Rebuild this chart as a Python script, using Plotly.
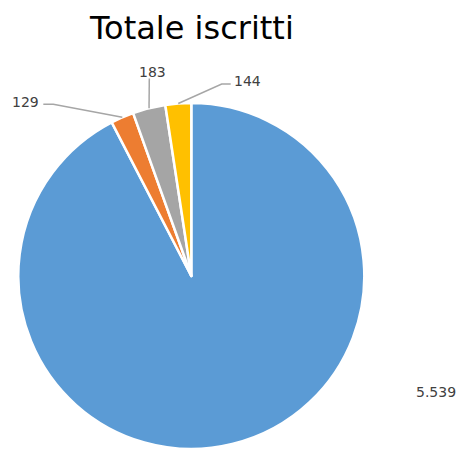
import math
import plotly.graph_objects as go

# ---- data ----
categories = ["A", "B", "C", "D"]
values = [5539, 129, 183, 144]
value_labels = ["5.539", "129", "183", "144"]
colors = ["#5B9BD5", "#ED7D31", "#A5A5A5", "#FFC000"]
title_text = "Totale iscritti"

W, H = 459, 449
# pie geometry in pixels (layout)
cx, cy, R = 191.3, 276.0, 173.0

def px2paper(x, y):
    return x / W, 1 - y / H

dx0, dy0 = px2paper(cx - R, cy + R)
dx1, dy1 = px2paper(cx + R, cy - R)
dom_x = [max(0.0, dx0), min(1.0, dx1)]
dom_y = [max(0.0, dy0), min(1.0, dy1)]

fig = go.Figure()
fig.add_trace(go.Pie(
    labels=categories, values=values, sort=False, direction="clockwise",
    rotation=0, textinfo="none", hoverinfo="label+value",
    marker=dict(colors=colors, line=dict(color="white", width=2.5)),
    domain=dict(x=dom_x, y=dom_y), showlegend=False,
))

# label placement (pixels): text centre, and leader-line elbow points
label_pos = [(436, 392), (25.5, 102), (152.5, 72), (247, 80.5)]
leader_elbows = [None,
                 [(43.3, 104.3), (53.3, 104.3)],
                 [(149.3, 78.5)],
                 [(230.7, 84.0), (221.7, 84.0)]]

total = sum(values)
annotations = []
shapes = []
cum = 0
for i, v in enumerate(values):
    mid = (cum + v / 2) / total * 2 * math.pi
    cum += v
    ax_ = cx + R * math.sin(mid)
    ay_ = cy - R * math.cos(mid)
    lx, ly = label_pos[i]
    px_, py_ = px2paper(lx, ly)
    annotations.append(dict(x=px_, y=py_, xref="paper", yref="paper",
                            text=value_labels[i], showarrow=False,
                            xanchor="center", yanchor="middle",
                            font=dict(family="DejaVu Sans", size=14, color="#404040")))
    if leader_elbows[i]:
        pts = leader_elbows[i] + [(ax_, ay_)]
        path = ""
        for j, (x, y) in enumerate(pts):
            qx, qy = px2paper(x, y)
            path += ("M" if j == 0 else " L") + f"{qx:.5f},{qy:.5f}"
        shapes.append(dict(type="path", xref="paper", yref="paper", path=path,
                           line=dict(color="#A6A6A6", width=1.5)))

tx, ty = px2paper(191.3, 28)
annotations.append(dict(x=tx, y=ty, xref="paper", yref="paper", text=title_text,
                        showarrow=False, xanchor="center", yanchor="middle",
                        font=dict(family="DejaVu Sans", size=32, color="#000000")))

fig.update_layout(width=W, height=H, margin=dict(l=0, r=0, t=0, b=0),
                  paper_bgcolor="white", plot_bgcolor="white",
                  annotations=annotations, shapes=shapes)
fig.write_html("out.html", config={"displayModeBar": False},
               post_script="document.body.style.margin='0';document.body.style.overflow='hidden';")
